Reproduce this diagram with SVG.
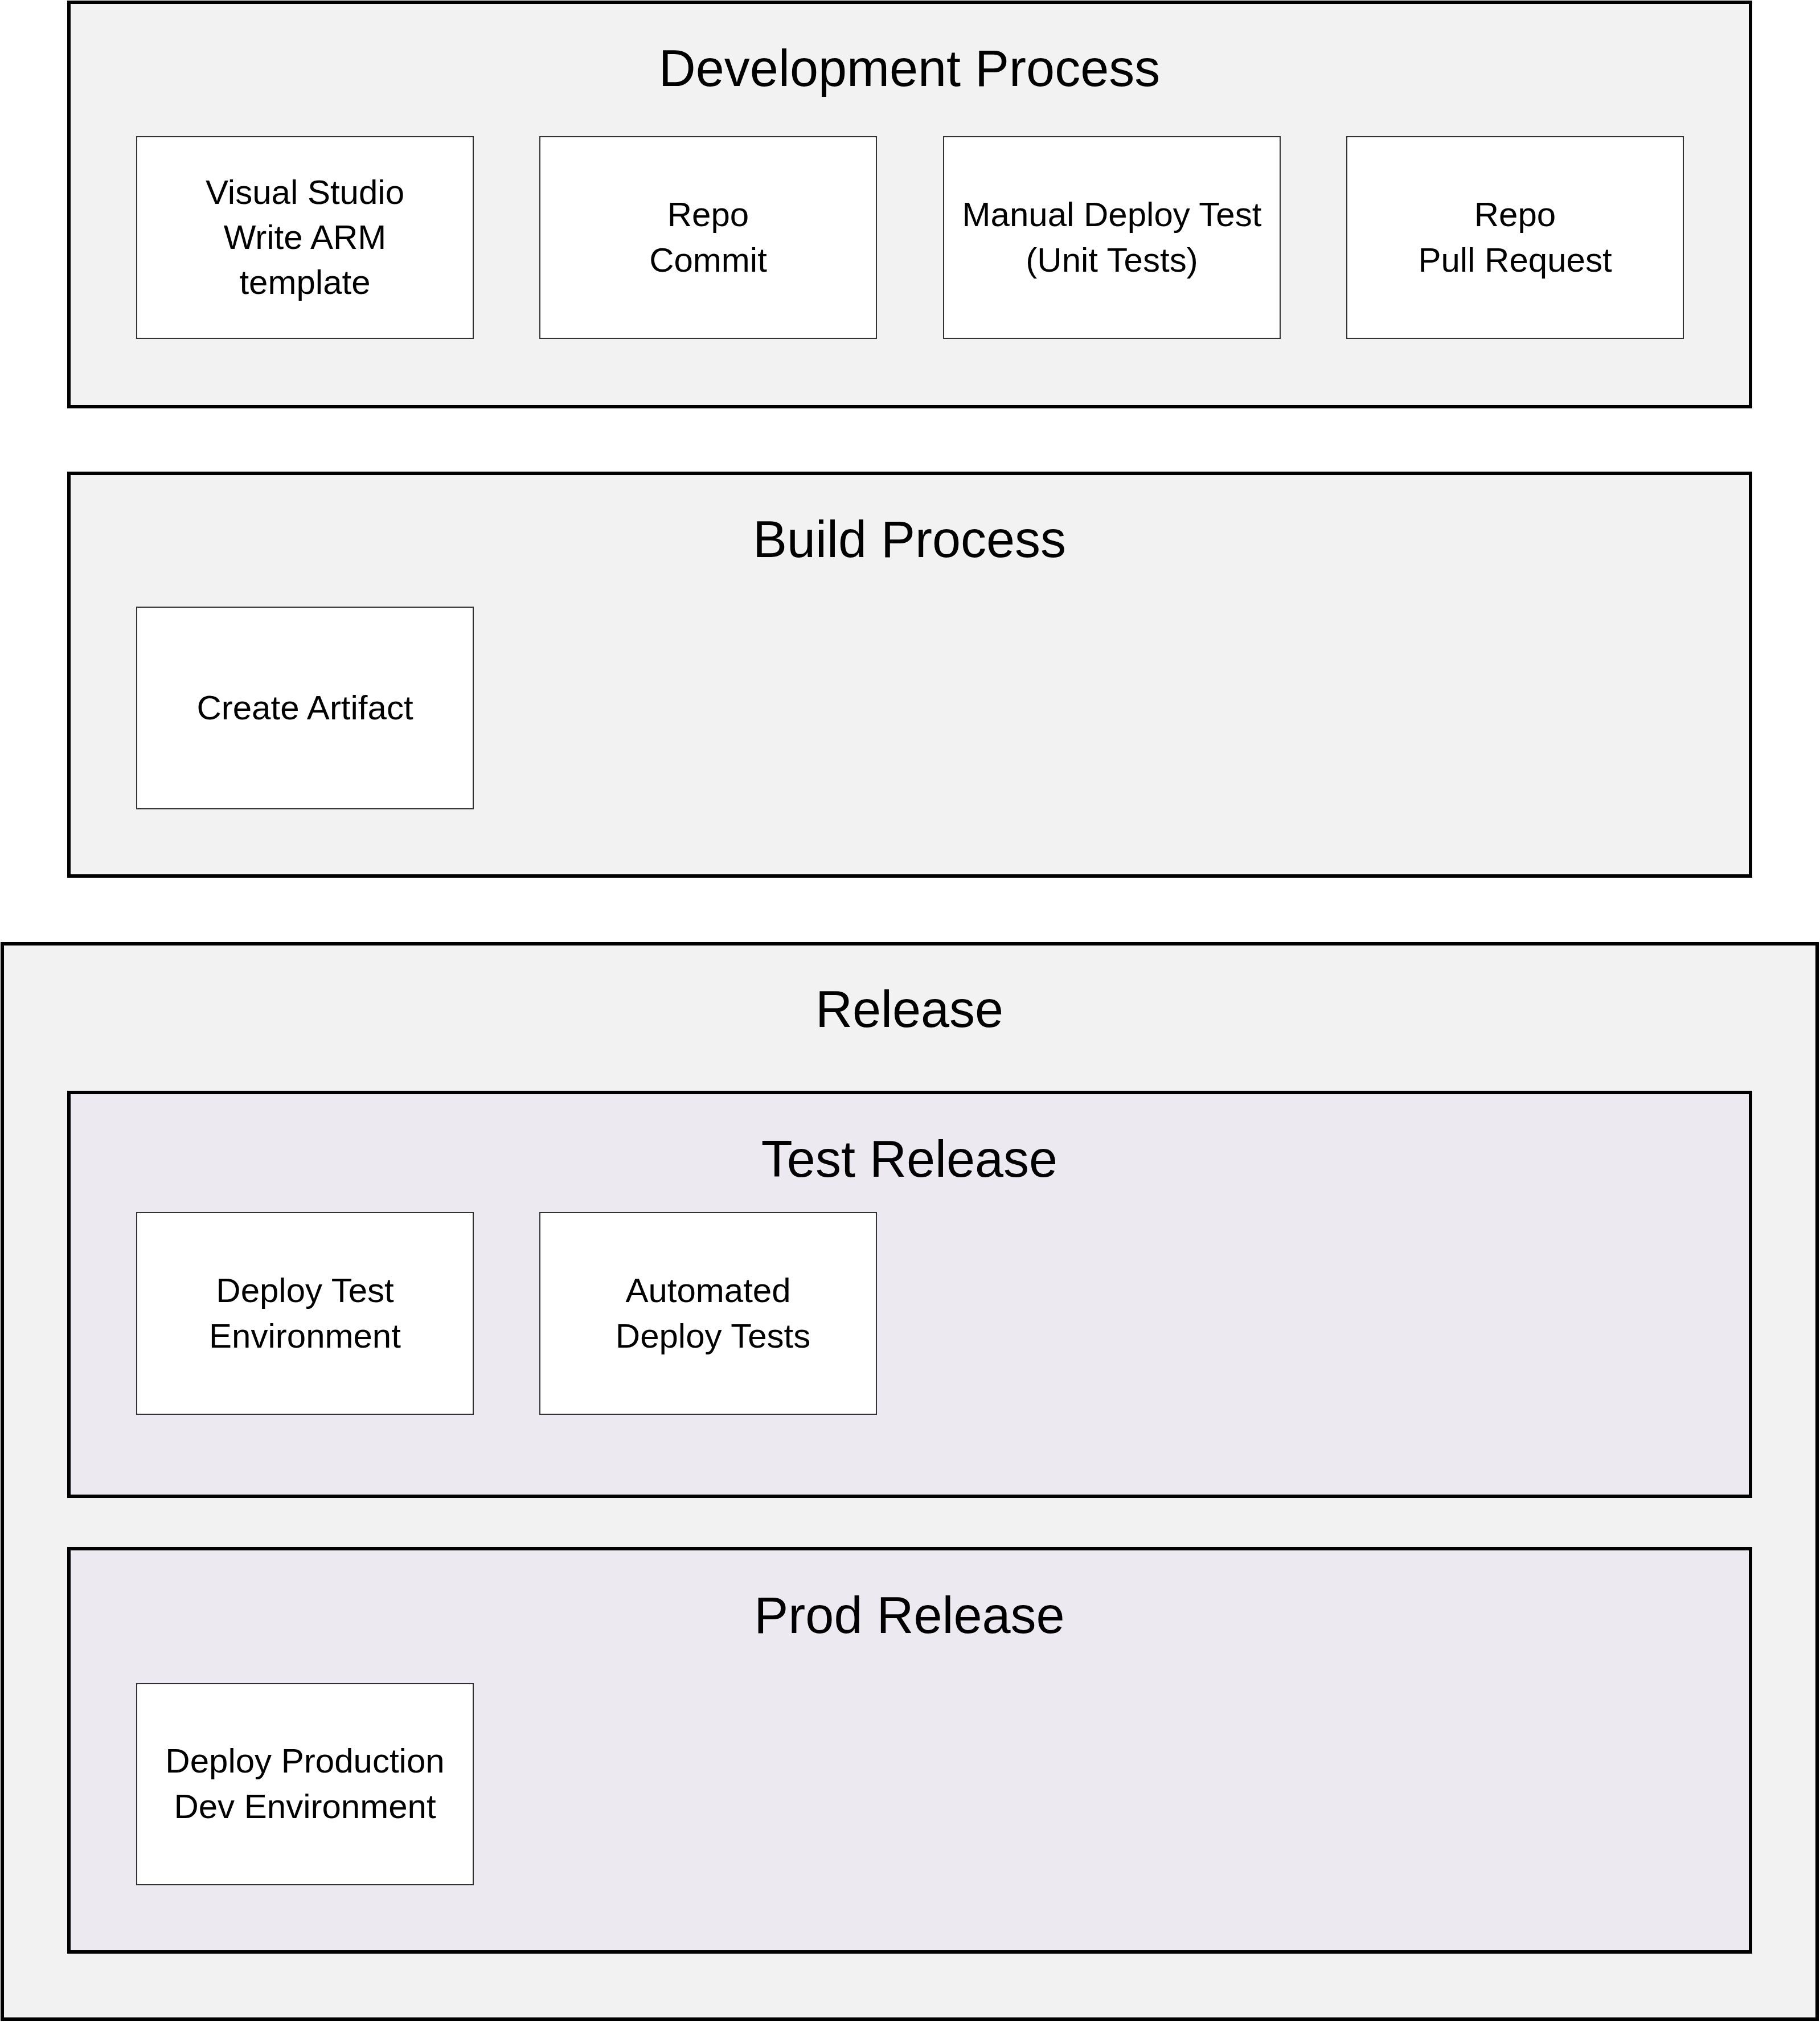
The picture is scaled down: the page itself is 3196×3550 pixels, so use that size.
<svg xmlns="http://www.w3.org/2000/svg" width="3196" height="3550" viewBox="0 0 3196 3550">
<style>
.grp{fill:#f2f2f2;stroke:#000;stroke-width:6}
.sub{fill:#ece9f0;stroke:#000;stroke-width:6}
.node{fill:#fff;stroke:#333;stroke-width:2}
.title{font-family:"Liberation Sans",Arial,sans-serif;font-size:90px;fill:#000;text-anchor:middle}
.lbl{font-family:"Liberation Sans",Arial,sans-serif;font-size:60px;fill:#000;text-anchor:middle}
</style>
<rect width="3196" height="3550" fill="#fff"/>
<g id="dev-process">
<rect class="grp" x="121" y="4" width="2953" height="710"/>
<text class="title" x="1597" y="151">Development Process</text>
</g>
<g id="node-visual-studio">
<rect class="node" x="240" y="240" width="591" height="354"/>
<text class="lbl" x="535.5" y="358">Visual Studio</text>
<text class="lbl" x="535.5" y="437">Write ARM</text>
<text class="lbl" x="535.5" y="516">template</text>
</g>
<g id="node-repo-commit">
<rect class="node" x="948" y="240" width="591" height="354"/>
<text class="lbl" x="1243.5" y="397">Repo</text>
<text class="lbl" x="1243.5" y="477">Commit</text>
</g>
<g id="node-manual-deploy-test">
<rect class="node" x="1657" y="240" width="591" height="354"/>
<text class="lbl" x="1952.5" y="397">Manual Deploy Test</text>
<text class="lbl" x="1952.5" y="477">(Unit Tests)</text>
</g>
<g id="node-pull-request">
<rect class="node" x="2365" y="240" width="591" height="354"/>
<text class="lbl" x="2660.5" y="397">Repo</text>
<text class="lbl" x="2660.5" y="477">Pull Request</text>
</g>
<g id="build-process">
<rect class="grp" x="121" y="831" width="2953" height="707"/>
<text class="title" x="1597" y="978">Build Process</text>
</g>
<g id="node-create-artifact">
<rect class="node" x="240" y="1066" width="591" height="354"/>
<text class="lbl" x="535.5" y="1263">Create Artifact</text>
</g>
<g id="release">
<rect class="grp" x="4" y="1657" width="3187" height="1888"/>
<text class="title" x="1597" y="1803">Release</text>
</g>
<g id="test-release">
<rect class="sub" x="121" y="1918" width="2953" height="709"/>
<text class="title" x="1597" y="2066">Test Release</text>
</g>
<g id="node-deploy-test-env">
<rect class="node" x="240" y="2129" width="591" height="354"/>
<text class="lbl" x="535.5" y="2286">Deploy Test</text>
<text class="lbl" x="535.5" y="2366">Environment</text>
</g>
<g id="node-automated-deploy-tests">
<rect class="node" x="948" y="2129" width="591" height="354"/>
<text class="lbl" x="1243.5" y="2286">Automated</text>
<text class="lbl" x="1252" y="2366">Deploy Tests</text>
</g>
<g id="prod-release">
<rect class="sub" x="121" y="2719" width="2953" height="708"/>
<text class="title" x="1597" y="2867">Prod Release</text>
</g>
<g id="node-deploy-production">
<rect class="node" x="240" y="2956" width="591" height="353"/>
<text class="lbl" x="535.5" y="3112">Deploy Production</text>
<text class="lbl" x="535.5" y="3192">Dev Environment</text>
</g>
<g id="connectors"></g>
</svg>
